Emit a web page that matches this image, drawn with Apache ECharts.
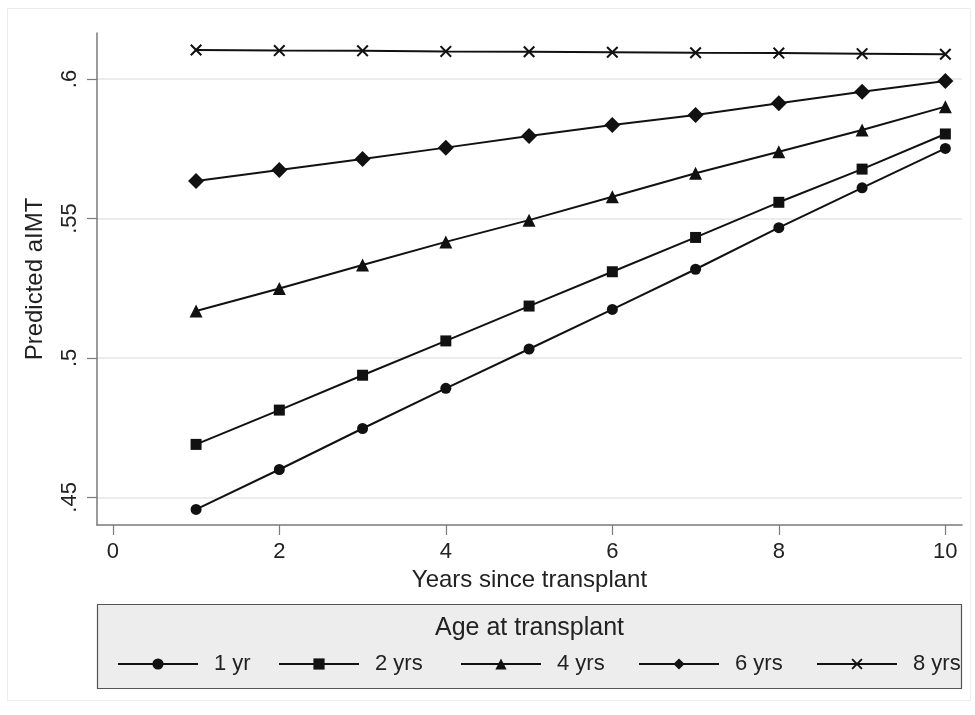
<!DOCTYPE html>
<html>
<head>
<meta charset="utf-8">
<script src="https://cdn.jsdelivr.net/npm/echarts@6/dist/echarts.min.js"></script>
<style>
html,body{margin:0;padding:0;background:#fff;}
#chart{width:975px;height:715px;}
</style>
</head>
<body>
<div id="chart"></div>
<script>
// ---- data ----
const years = [1, 2, 3, 4, 5, 6, 7, 8, 9, 10];
const seriesNames = ['1 yr', '2 yrs', '4 yrs', '6 yrs', '8 yrs'];
const age1 = [0.4457, 0.4600, 0.4747, 0.4891, 0.5032, 0.5174, 0.5318, 0.5467, 0.5610, 0.5751];
const age2 = [0.4690, 0.4813, 0.4938, 0.5061, 0.5186, 0.5309, 0.5432, 0.5558, 0.5677, 0.5803];
const age4 = [0.5168, 0.5249, 0.5333, 0.5416, 0.5494, 0.5578, 0.5662, 0.5739, 0.5817, 0.5901];
const age6 = [0.5634, 0.5674, 0.5713, 0.5754, 0.5796, 0.5835, 0.5871, 0.5913, 0.5954, 0.5993];
const age8 = [0.6104, 0.6102, 0.6101, 0.6099, 0.6098, 0.6096, 0.6094, 0.6093, 0.6091, 0.6089];
const xTickValues = [0, 2, 4, 6, 8, 10];
const yTickValues = [0.45, 0.5, 0.55, 0.6];
const yTickLabels = ['.45', '.5', '.55', '.6'];
const xTitle = 'Years since transplant';
const yTitle = 'Predicted aIMT';
const legendTitle = 'Age at transplant';

// ---- styling ----
const FONT = "'Liberation Sans', Arial, Helvetica, sans-serif";
const crossPath = 'path://M0,1.2 L1.2,0 L5,3.8 L8.8,0 L10,1.2 L6.2,5 L10,8.8 L8.8,10 L5,6.2 L1.2,10 L0,8.8 L3.8,5 Z';
const symbols = ['circle', 'rect', 'triangle', 'diamond', crossPath];
const symbolSizes = [11, 11, 13, 16, 12];
const allData = [age1, age2, age4, age6, age8];
const legendLefts = [117, 278, 460, 638, 816];

const chart = echarts.init(document.getElementById('chart'), null, {renderer: 'canvas'});

const series = seriesNames.map((name, i) => ({
  name: name,
  type: 'line',
  data: years.map((x, j) => [x, allData[i][j]]),
  symbol: symbols[i],
  symbolSize: symbolSizes[i],
  showAllSymbol: true,
  lineStyle: {color: '#111', width: 2},
  itemStyle: {color: '#111'},
  emphasis: {disabled: true},
  z: 3
}));

const legends = seriesNames.map((name, i) => ({
  data: [name],
  left: legendLefts[i],
  top: 652,
  padding: 0,
  orient: 'horizontal',
  itemWidth: 80,
  itemHeight: 14,
  selectedMode: false,
  textStyle: {fontFamily: FONT, fontSize: 22, color: '#222', lineHeight: 24, padding: [0, 0, 0, 11]}
}));

const option = {
  animation: false,
  backgroundColor: '#ffffff',
  grid: {left: 97, top: 33, right: 13, bottom: 190, containLabel: false},
  xAxis: {
    type: 'value',
    min: -0.19,
    max: 10.2,
    name: xTitle,
    nameLocation: 'middle',
    nameGap: 41,
    nameTextStyle: {fontFamily: FONT, fontSize: 24, color: '#222'},
    axisLine: {show: true, onZero: false, lineStyle: {color: '#7a7a7a', width: 1.5}},
    axisTick: {show: true, length: 10, inside: false, customValues: xTickValues, lineStyle: {color: '#7a7a7a', width: 1.2}},
    axisLabel: {customValues: xTickValues, margin: 16, fontFamily: FONT, fontSize: 22, color: '#222'},
    splitLine: {show: false}
  },
  yAxis: {
    type: 'value',
    min: 0.4401,
    max: 0.6165,
    name: yTitle,
    nameLocation: 'middle',
    nameRotate: 90,
    nameGap: 50,
    nameTextStyle: {fontFamily: FONT, fontSize: 24, color: '#222'},
    axisLine: {show: true, onZero: false, lineStyle: {color: '#7a7a7a', width: 1.5}},
    axisTick: {show: true, length: 10, inside: false, customValues: yTickValues, lineStyle: {color: '#7a7a7a', width: 1.2}},
    axisLabel: {
      customValues: yTickValues,
      rotate: 90,
      margin: 16,
      fontFamily: FONT, fontSize: 22, color: '#222',
      formatter: function (v) {
        const k = yTickValues.findIndex(t => Math.abs(t - v) < 1e-9);
        return k >= 0 ? yTickLabels[k] : '';
      }
    },
    splitLine: {show: true, lineStyle: {color: '#e6e6e6', width: 1.5}}
  },
  legend: legends,
  graphic: [
    {type: 'rect', z: -10, silent: true, shape: {x: 7.5, y: 8.5, width: 963, height: 692},
     style: {fill: '#ffffff', stroke: '#ececec', lineWidth: 1}},
    {type: 'rect', z: -5, silent: true, shape: {x: 97.5, y: 604.5, width: 864, height: 84},
     style: {fill: '#ededed', stroke: '#555555', lineWidth: 1.2}},
    {type: 'text', z: 10, silent: true, style: {text: legendTitle, x: 529.5, y: 628, align: 'center', verticalAlign: 'middle',
     font: '25px ' + FONT, fill: '#222'}}
  ],
  series: series
};
chart.setOption(option);
</script>
</body>
</html>
